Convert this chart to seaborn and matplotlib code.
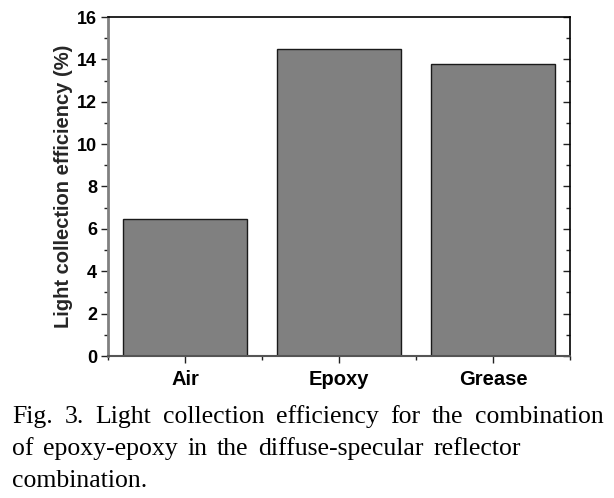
import matplotlib
matplotlib.use("Agg")
import matplotlib.pyplot as plt
from matplotlib.ticker import MultipleLocator, FixedLocator
import seaborn as sns
import pandas as pd

categories = ["Air", "Epoxy", "Grease"]
efficiency = [6.47, 14.5, 13.8]
y_ticks = [0, 2, 4, 6, 8, 10, 12, 14, 16]
ylabel = "Light collection efficiency (%)"
caption_lines = [
    "Fig. 3. Light collection efficiency for the combination",
    "of epoxy-epoxy in the diffuse-specular reflector",
    "combination.",
]

sns.set_style("ticks")
plt.rcParams["font.family"] = ["Liberation Sans", "DejaVu Sans"]

df = pd.DataFrame({"cat": categories, "eff": efficiency})

fig = plt.figure(figsize=(6.14, 4.98), dpi=100)
ax = fig.add_axes([108 / 614, 1 - 356 / 498, (570 - 108) / 614, (356 - 17) / 498])

sns.barplot(data=df, x="cat", y="eff", color="#808080", saturation=1,
            edgecolor="#1a1a1a", linewidth=1.0, width=0.8, ax=ax)

ax.set_xlim(-0.5, 2.5)
ax.set_ylim(0, 16)
ax.set_yticks(y_ticks)
ax.yaxis.set_minor_locator(MultipleLocator(1))
ax.xaxis.set_minor_locator(FixedLocator([-0.5, 0.5, 1.5, 2.5]))
ax.set_xlabel("")
ax.set_ylabel(ylabel, fontsize=14.5, fontweight="bold", labelpad=3)

for lab in ax.get_yticklabels():
    lab.set_fontweight("bold")
for lab in ax.get_xticklabels():
    lab.set_fontweight("bold")
ax.tick_params(axis="y", which="major", direction="out", length=5, width=1,
               labelsize=13, right=True, pad=3)
ax.tick_params(axis="y", which="minor", direction="out", length=3, width=1, right=True)
ax.tick_params(axis="x", which="major", direction="out", length=5, width=1,
               labelsize=14.5, pad=5)
ax.tick_params(axis="x", which="minor", direction="out", length=3, width=1)
# right-side ticks inward
for t in ax.yaxis.get_major_ticks() + ax.yaxis.get_minor_ticks():
    t.tick2line.set_marker(matplotlib.lines.TICKLEFT)
ax.tick_params(axis="both", which="both", colors="#222222", labelcolor="black")

for side in ["top", "right"]:
    ax.spines[side].set_visible(True)
    ax.spines[side].set_color("black")
    ax.spines[side].set_linewidth(1.2)
ax.spines["left"].set_color("#808080")
ax.spines["left"].set_linewidth(2)
ax.spines["bottom"].set_color("#555555")
ax.spines["bottom"].set_linewidth(1.5)

# caption with justified lines
fig.canvas.draw()
renderer = fig.canvas.get_renderer()
cap_font = dict(family="Liberation Serif", fontsize=18.5, color="black")
baselines = [423, 455, 487]
spans = [(12, 604), (12, 521), None]
for line, yb, span in zip(caption_lines, baselines, spans):
    yf = 1 - yb / 498
    if span is None:
        fig.text(12 / 614, yf, line, ha="left", va="baseline", **cap_font)
        continue
    words = line.split(" ")
    texts = [fig.text(0, yf, w, ha="left", va="baseline", **cap_font) for w in words]
    widths = [t.get_window_extent(renderer).width for t in texts]
    gap = (span[1] - span[0] - sum(widths)) / (len(words) - 1)
    x = span[0]
    for t, w in zip(texts, widths):
        t.set_x(x / 614)
        x += w + gap

fig.savefig("out.png", dpi=100)
